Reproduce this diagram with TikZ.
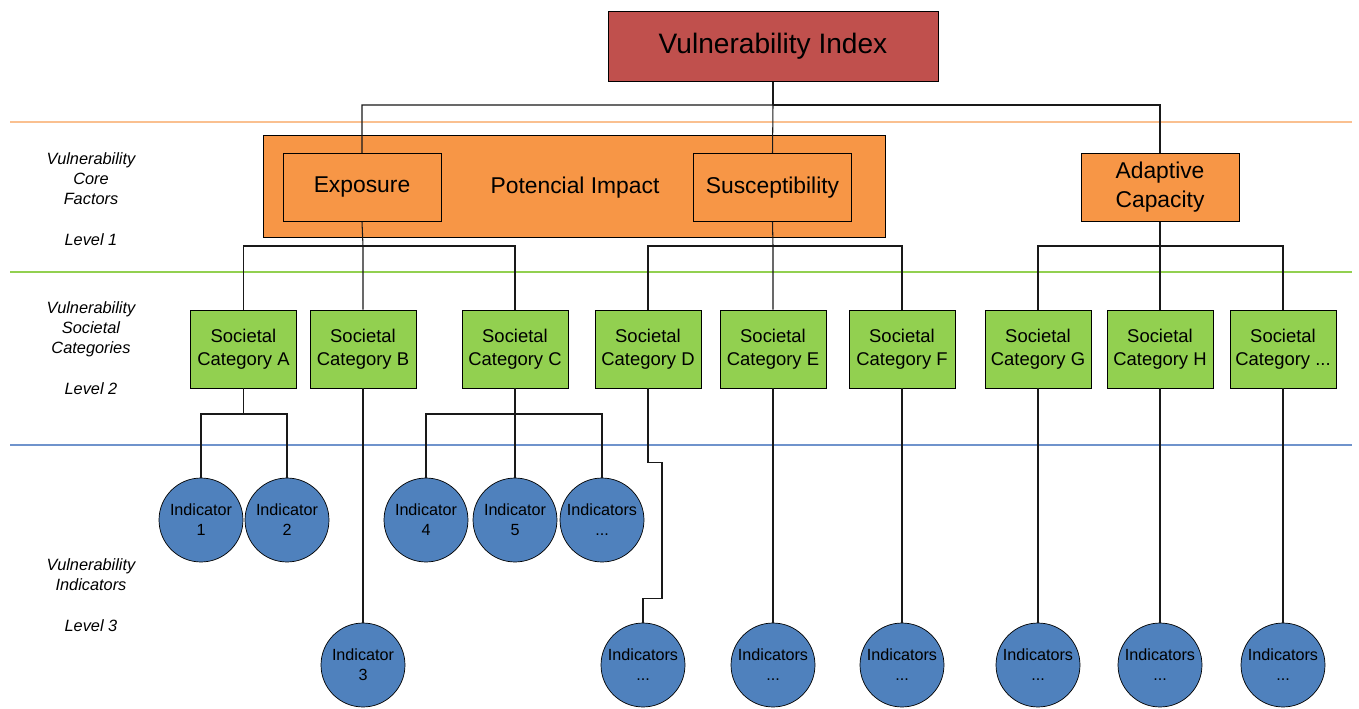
\documentclass[tikz,border=0pt]{standalone}
\usepackage{fontspec}
\setmainfont{Liberation Sans}
\usetikzlibrary{positioning}

\definecolor{indexred}{HTML}{C0504D}
\definecolor{coreorange}{HTML}{F79646}
\definecolor{catgreen}{HTML}{92D050}
\definecolor{indblue}{HTML}{4F81BD}
\definecolor{lineorange}{HTML}{FAC090}
\definecolor{linegreen}{HTML}{92D050}
\definecolor{lineblue}{HTML}{6F93CC}

\newcommand{\moredots}{...}

\tikzset{
  index/.style={draw, fill=indexred, minimum width=6.6cm, minimum height=1.4cm,
    font=\fontsize{16}{19}\selectfont},
  impact/.style={draw, fill=coreorange, minimum width=12.44cm, minimum height=2.04cm},
  factor/.style={draw, fill=coreorange, minimum width=3.16cm, minimum height=1.36cm,
    align=center, font=\fontsize{13}{16.4}\selectfont},
  category/.style={draw, fill=catgreen, minimum width=2.12cm, minimum height=1.56cm,
    align=center, inner sep=1pt, font=\fontsize{10.5}{13}\selectfont},
  indicator/.style={draw, circle, fill=indblue, minimum size=1.68cm, inner sep=0pt,
    align=center, font=\fontsize{9.2}{11.3}\selectfont},
  levellabel/.style={align=center, font=\fontsize{9.3}{11.6}\selectfont\itshape},
  link/.style={line width=0.6pt, black!90},
  levelline/.style={line width=0.9pt}
}

\begin{document}
\begin{tikzpicture}[x=0.02cm, y=-0.02cm]
  \useasboundingbox (0,0) rectangle (1359,709);

  % level separators
  \draw[levelline, lineorange] (10,122) -- (1352,122);
  \draw[levelline, linegreen]  (10,272) -- (1352,272);
  \draw[levelline, lineblue]   (10,445) -- (1352,445);

  % level captions
  \node[levellabel] (lab1) at (91,199) {Vulnerability\\Core\\Factors\\[11.6pt]Level 1};
  \node[levellabel] (lab2) at (91,348) {Vulnerability\\Societal\\Categories\\[11.6pt]Level 2};
  \node[levellabel] (lab3) at (91,595) {Vulnerability\\Indicators\\[11.6pt]Level 3};

  % top and core factors
  \node[index] (vi) at (773,46.5) {Vulnerability Index};
  \node[impact] (impact) at (574,186) {};
  \node (pi) at (575,188) {\fontsize{13}{16}\selectfont Potencial Impact};
  \node[factor] (expo) at (362,187.5) {Exposure};
  \node[factor] (susc) at (772.5,187.5) {Susceptibility};
  \node[factor] (adapt) at (1160,187.5) {Adaptive\\Capacity};

  % societal categories
  \foreach \n/\x/\t in {A/243.5/A, B/363/B, C/515/C, D/648/D, E/773/E,
                        F/902/F, G/1038/G, H/1160/H, X/1283/\moredots}
    \node[category] (cat\n) at (\x,349) {Societal\\Category \t};

  % indicators
  \node[indicator] (ind1) at (201,520) {Indicator\\1};
  \node[indicator] (ind2) at (287,520) {Indicator\\2};
  \node[indicator] (ind4) at (426,520) {Indicator\\4};
  \node[indicator] (ind5) at (515,520) {Indicator\\5};
  \node[indicator] (indC) at (602,520) {Indicators\\\moredots};
  \node[indicator] (ind3) at (363,665) {Indicator\\3};
  \foreach \n/\x in {D/643, E/773, F/902, G/1038, H/1160, X/1283}
    \node[indicator] (ind\n) at (\x,665) {Indicators\\\moredots};

  % tree connectors
  \coordinate (bus0) at (773,105);
  \draw[link] (vi) -- (bus0);
  \draw[link] (expo.north) |- (bus0) -- (susc.north);
  \draw[link] (adapt.north) |- (bus0);

  \coordinate (busE) at (363,246);
  \draw[link] (expo.south) -- (busE) -- (catB.north);
  \draw[link] (catA.north) |- (busE) -| (catC.north);
  \coordinate (busS) at (773,246);
  \draw[link] (susc.south) -- (busS) -- (catE.north);
  \draw[link] (catD.north) |- (busS) -| (catF.north);
  \coordinate (busA) at (1160,246);
  \draw[link] (adapt.south) -- (busA) -- (catH.north);
  \draw[link] (catG.north) |- (busA) -| (catX.north);

  \coordinate (busCa) at (243.5,414);
  \draw[link] (catA.south) -- (busCa);
  \draw[link] (ind1.north) |- (busCa) -| (ind2.north);
  \coordinate (busCc) at (515,414);
  \draw[link] (catC.south) -- (busCc) -- (ind5.north);
  \draw[link] (ind4.north) |- (busCc) -| (indC.north);
  \draw[link] (catB) -- (ind3);
  \draw[link] (catD.south) -- ++(0,74) -- ++(14,0) -- ++(0,136) -| (indD.north);
  \foreach \n in {E,F,G,H,X}
    \draw[link] (cat\n) -- (ind\n);
\end{tikzpicture}
\end{document}
